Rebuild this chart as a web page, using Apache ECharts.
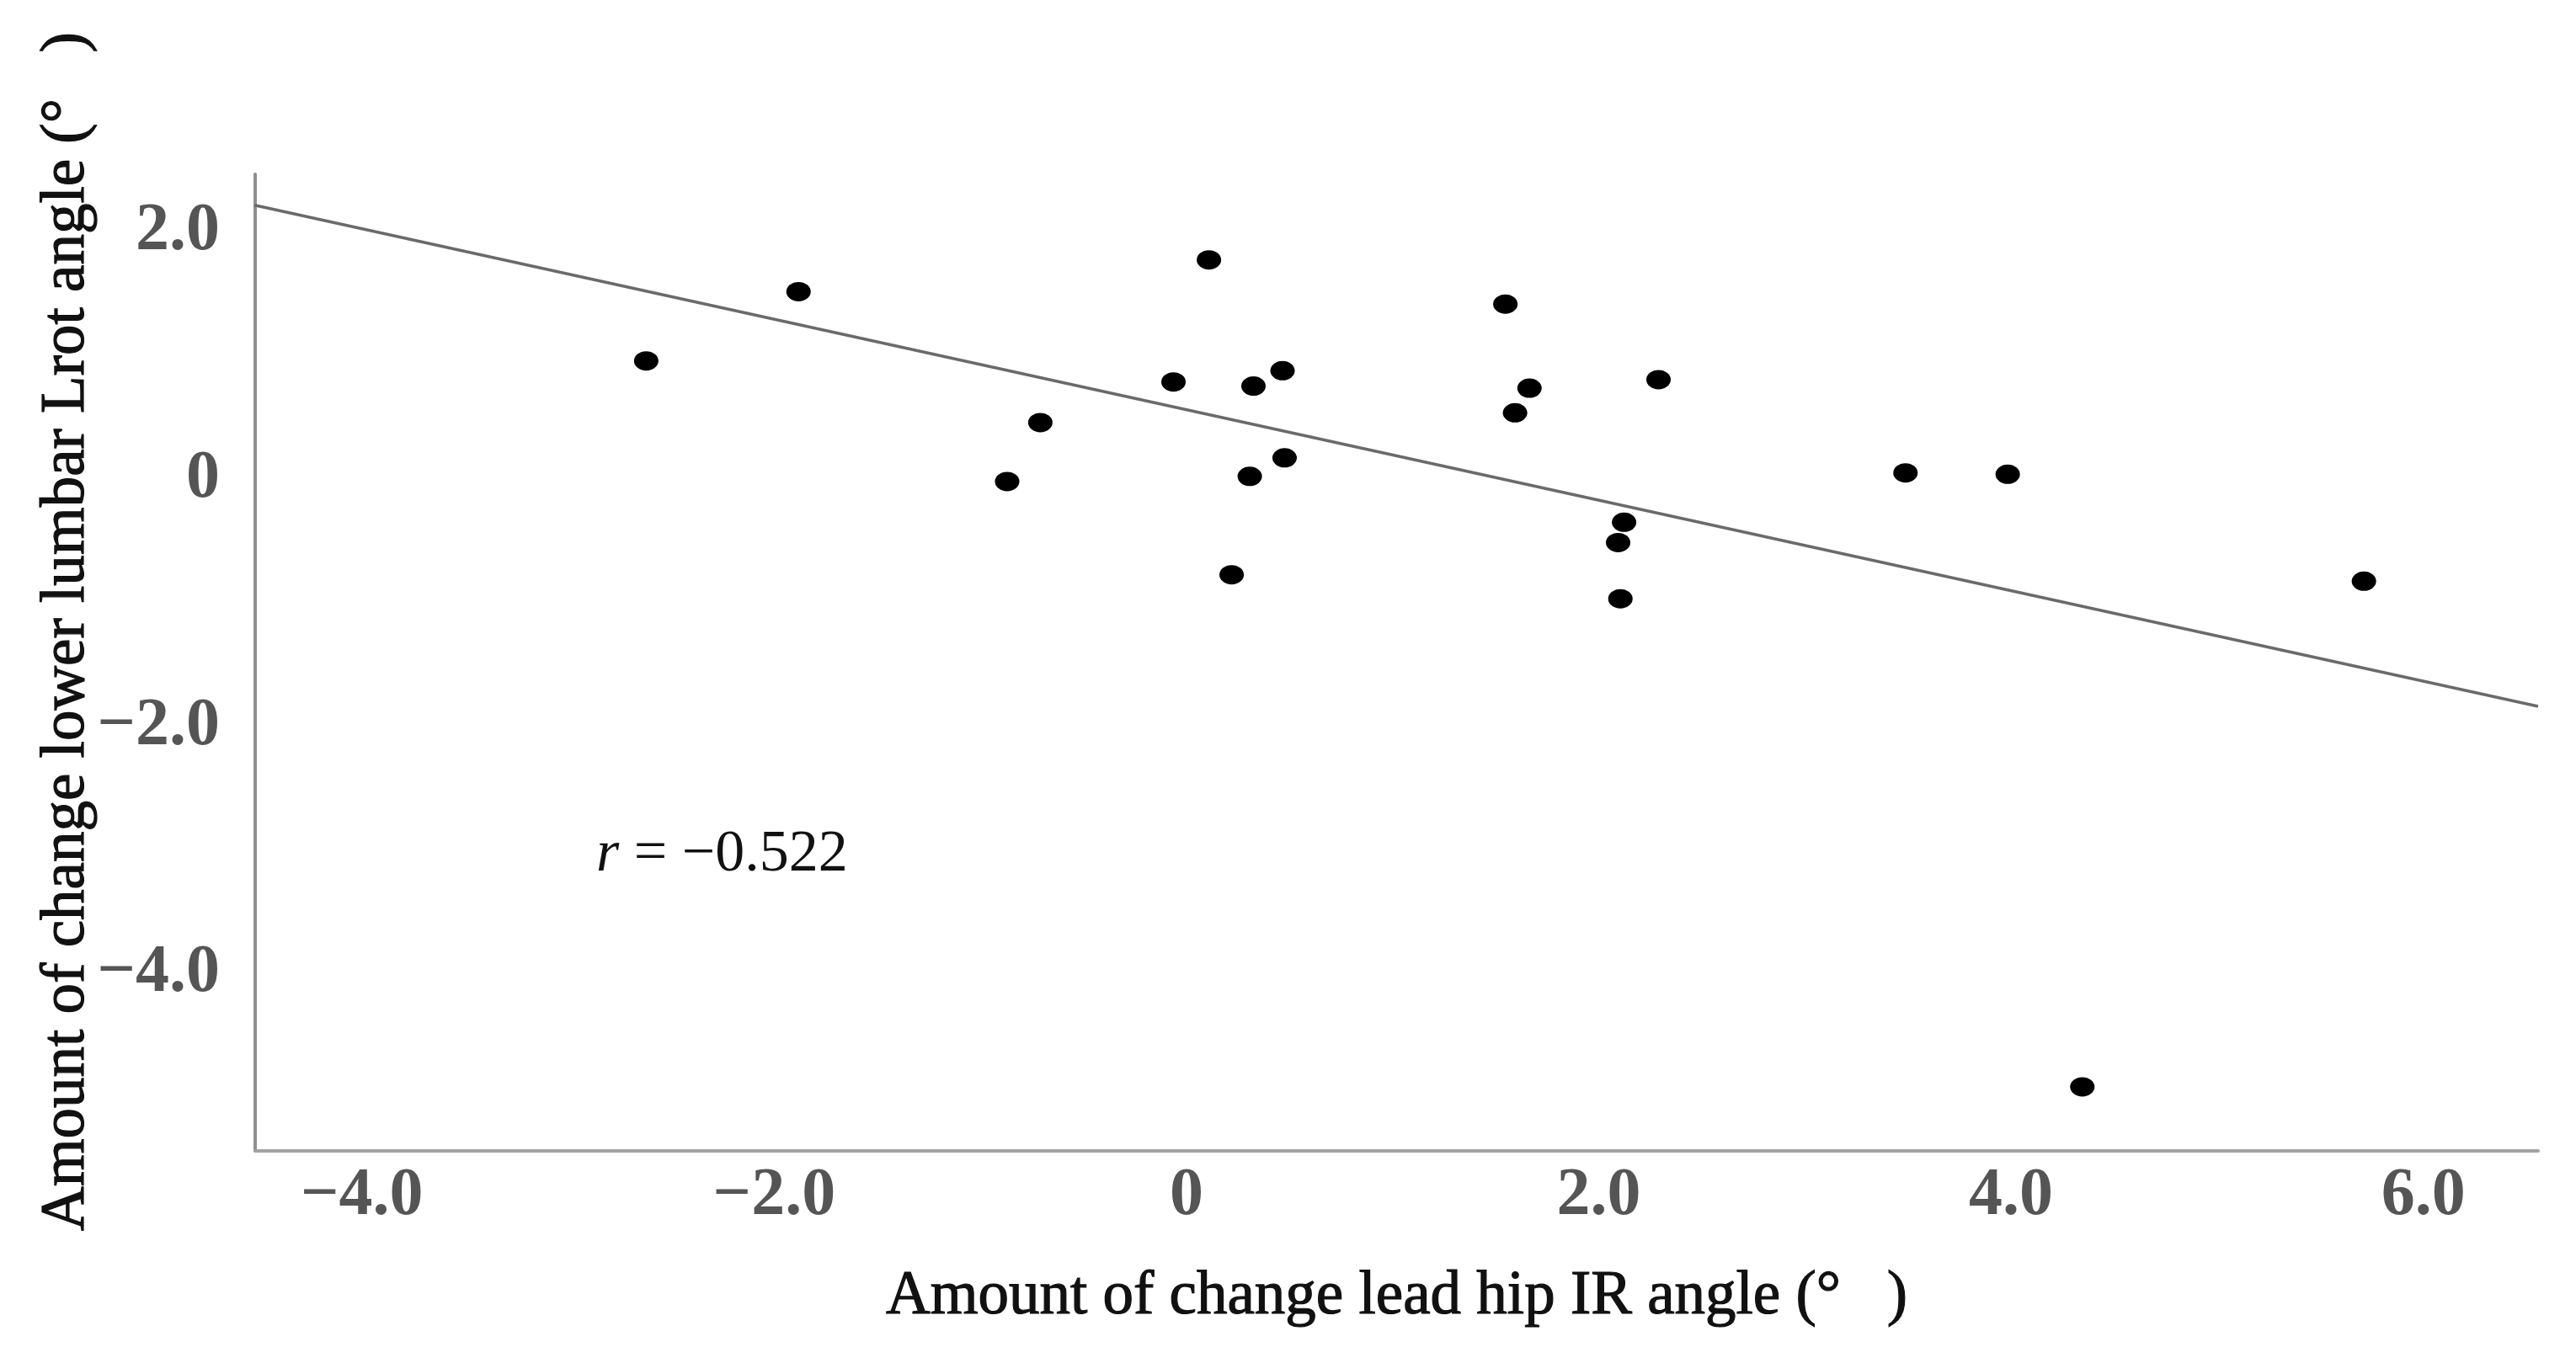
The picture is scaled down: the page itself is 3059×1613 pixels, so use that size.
<!DOCTYPE html>
<html>
<head>
<meta charset="utf-8">
<script src="https://cdn.jsdelivr.net/npm/echarts@6/dist/echarts.min.js"></script>
<style>
html,body{margin:0;padding:0;background:#fff;}
#chart{width:3059px;height:1613px;}
</style>
</head>
<body>
<div id="chart"></div>
<script>
// Amount of change lead hip IR angle (x) vs lower lumbar Lrot angle (y)
const hipIR = [0.109, 1.547, 0.466, -0.063, 0.325, 1.664, 2.290, 1.594, -0.709, 0.476, -0.870,
               0.307, 2.123, 2.094, 0.219, 2.105, -1.882, -2.621, 3.488, 3.984, 5.712, 4.346];
const lumbarLrot = [1.773, 1.415, 0.877, 0.786, 0.752, 0.735, 0.804, 0.536, 0.457, 0.172, -0.019,
                    0.022, -0.349, -0.513, -0.773, -0.967, 1.516, 0.956, 0.050, 0.039, -0.825, -4.914];
// regression line end points
const fitX = [-4.52, 6.557];
const fitY = [2.215, -1.837];
const xTicks = [-4, -2, 0, 2, 4, 6];
const yTicks = [-4, -2, 0, 2];
const xTitle = 'Amount of change lead hip IR angle (°\u2002 )';
const yTitle = 'Amount of change lower lumbar Lrot angle (°\u2002 )';
const rText = '−0.522';

const fmt = v => v === 0 ? '0' : (v < 0 ? '−' : '') + Math.abs(v).toFixed(1);
const serif = 'Liberation Serif, Times New Roman, serif';

const chart = echarts.init(document.getElementById('chart'));
chart.setOption({
  backgroundColor: '#ffffff',
  animation: false,
  grid: { left: 303, right: 45, top: 207, bottom: 246, containLabel: false },
  xAxis: {
    type: 'value', min: -4.518, max: 6.557,
    name: xTitle, nameLocation: 'middle', nameGap: 137,
    nameTextStyle: { fontFamily: serif, fontSize: 73, color: '#111',
      textBorderColor: '#111', textBorderWidth: 1.2 },
    axisLine: { show: true, onZero: false, lineStyle: { color: '#a3a3a3', width: 4 } },
    axisTick: { show: false },
    splitLine: { show: false },
    axisLabel: { customValues: xTicks, formatter: fmt, margin: 14,
      fontFamily: serif, fontSize: 80, fontWeight: 'bold', color: '#555555' }
  },
  yAxis: {
    type: 'value', min: -5.432, max: 2.465,
    axisLine: { show: true, onZero: false, lineStyle: { color: '#8f8f8f', width: 4 } },
    axisTick: { show: false },
    splitLine: { show: false },
    axisLabel: { customValues: yTicks, formatter: fmt, margin: 42,
      fontFamily: serif, fontSize: 80, fontWeight: 'bold', color: '#555555' }
  },
  graphic: [
    { type: 'text', x: 80, y: 750, rotation: Math.PI / 2,
      style: { text: yTitle, fontFamily: serif, fontSize: 73, fill: '#111',
        stroke: '#111', lineWidth: 1.2,
        align: 'center', verticalAlign: 'middle' } },
    { type: 'text', x: 708, y: 1016,
      style: { text: '{i|r} = ' + rText, fontFamily: serif, fontSize: 70, fill: '#111',
        align: 'left', verticalAlign: 'middle',
        rich: { i: { fontStyle: 'italic', fontFamily: serif, fontSize: 70, fill: '#111' } } } }
  ],
  series: [
    { type: 'line', data: fitX.map((x, i) => [x, fitY[i]]), symbol: 'none',
      lineStyle: { color: '#6a6a6a', width: 3.5 }, z: 2 },
    { type: 'scatter', data: hipIR.map((x, i) => [x, lumbarLrot[i]]),
      symbol: 'circle', symbolSize: [29, 23], itemStyle: { color: '#000', opacity: 1 }, z: 3 }
  ]
});
</script>
</body>
</html>
